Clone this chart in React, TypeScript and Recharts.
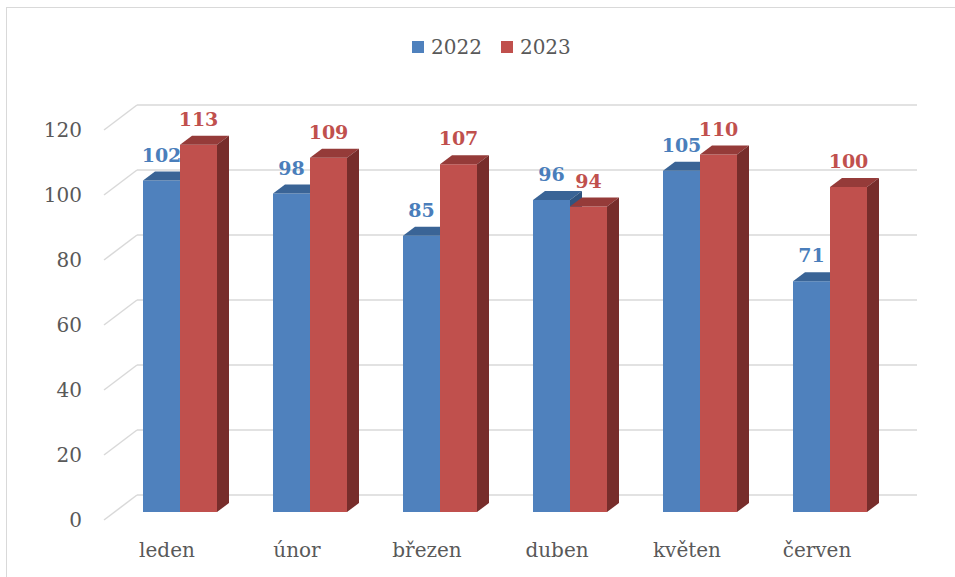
import { BarChart, Bar, XAxis, YAxis, CartesianGrid, LabelList } from 'recharts'

const categories = ['leden', 'únor', 'březen', 'duben', 'květen', 'červen']
const values2022 = [102, 98, 85, 96, 105, 71]
const values2023 = [113, 109, 107, 94, 110, 100]
const yTicks = [0, 20, 40, 60, 80, 100, 120]

const data = categories.map((name, i) => ({
  name,
  v2022: values2022[i],
  v2023: values2023[i],
}))

const FONT = '"DejaVu Serif", serif'
const TEXT = '#595959'
const GRID = '#d9d9d9'

// 3d offsets relative to the plane the bars stand in
const DEPTH_X = 12
const DEPTH_Y = 9
const FRONT = { dx: -11, dy: 8 }
const BACK = { dx: 22, dy: -17 }

const Y_AXIS_W = 60
const X_AXIS_H = 30
const MARGIN = { top: 122, right: 60, bottom: 35, left: 55 }
const PLOT_LEFT = MARGIN.left + Y_AXIS_W
const PLOT_BOTTOM = 577 - MARGIN.bottom - X_AXIS_H

const series = [
  { key: 'v2022', name: '2022', front: '#4f81bd', top: '#3a6496', side: '#2f5480', label: '#4a7ebb' },
  { key: 'v2023', name: '2023', front: '#c0504d', top: '#953b39', side: '#772d2b', label: '#c0504d' },
]

function make3dBar(s: (typeof series)[number]) {
  return (props: any) => {
    const { x, y, width, height } = props
    if (height == null || width == null) return <g />
    const b = y + height
    return (
      <g>
        <rect x={x} y={y} width={width} height={height} fill={s.front} />
        <polygon
          points={`${x},${y} ${x + width},${y} ${x + width + DEPTH_X},${y - DEPTH_Y} ${x + DEPTH_X},${y - DEPTH_Y}`}
          fill={s.top}
        />
        <polygon
          points={`${x + width},${y} ${x + width + DEPTH_X},${y - DEPTH_Y} ${x + width + DEPTH_X},${b - DEPTH_Y} ${x + width},${b}`}
          fill={s.side}
        />
      </g>
    )
  }
}

function gridLine(p: any) {
  const { x1, y1, x2, y2 } = p
  return (
    <g key={p.key}>
      <line x1={x1 + FRONT.dx} y1={y1 + FRONT.dy} x2={x1 + BACK.dx} y2={y1 + BACK.dy} stroke={GRID} strokeWidth={1.5} />
      <line x1={x1 + BACK.dx} y1={y1 + BACK.dy} x2={x2 + BACK.dx} y2={y2 + BACK.dy} stroke={GRID} strokeWidth={1.5} />
    </g>
  )
}

function YTick(props: any) {
  const { y, payload } = props
  return (
    <text
      x={PLOT_LEFT + FRONT.dx - 22}
      y={y + FRONT.dy}
      textAnchor="end"
      dominantBaseline="central"
      fontFamily={FONT}
      fontSize={20}
      fill={TEXT}
    >
      {payload.value}
    </text>
  )
}

function XTick(props: any) {
  const { x, payload } = props
  return (
    <text
      x={x + FRONT.dx - 2}
      y={PLOT_BOTTOM + 38}
      textAnchor="middle"
      dominantBaseline="central"
      fontFamily={FONT}
      fontSize={20}
      fill={TEXT}
    >
      {payload.value}
    </text>
  )
}

function makeLabel(color: string) {
  return (props: any) => {
    const { x, y, width, value } = props
    return (
      <text
        x={x + width / 2}
        y={y - 26}
        textAnchor="middle"
        dominantBaseline="central"
        fontFamily={FONT}
        fontWeight="bold"
        fontSize={19}
        fill={color}
      >
        {value}
      </text>
    )
  }
}

export default function App() {
  return (
    <div
      style={{
        position: 'absolute',
        left: 0,
        top: 0,
        width: 955,
        height: 577,
        background: '#fff',
        overflow: 'hidden',
      }}
    >
      <div
        style={{
          position: 'absolute',
          left: 6,
          top: 7,
          width: 1000,
          height: 700,
          border: `1.5px solid ${GRID}`,
        }}
      />
      <div
        style={{
          position: 'absolute',
          top: 34,
          left: 412,
          display: 'flex',
          alignItems: 'center',
          fontFamily: FONT,
          fontSize: 20,
          color: TEXT,
          lineHeight: '26px',
        }}
      >
        {series.map((s) => (
          <span key={s.key} style={{ display: 'flex', alignItems: 'center', marginRight: 19 }}>
            <span style={{ width: 12, height: 12, background: s.front, marginRight: 7 }} />
            {s.name}
          </span>
        ))}
      </div>
      <div style={{ position: 'absolute', left: 0, top: 0 }}>
        <BarChart width={955} height={577} data={data} margin={MARGIN} barGap={0} barSize={37}>
          <CartesianGrid vertical={false} horizontal={gridLine} />
          <XAxis dataKey="name" height={X_AXIS_H} axisLine={false} tickLine={false} tick={XTick} interval={0} />
          <YAxis
            width={Y_AXIS_W}
            domain={[0, 120]}
            ticks={yTicks}
            axisLine={false}
            tickLine={false}
            tick={YTick}
          />
          {series.map((s) => (
            <Bar key={s.key} dataKey={s.key} name={s.name} isAnimationActive={false} shape={make3dBar(s)}>
              <LabelList dataKey={s.key} content={makeLabel(s.label)} />
            </Bar>
          ))}
        </BarChart>
      </div>
    </div>
  )
}
